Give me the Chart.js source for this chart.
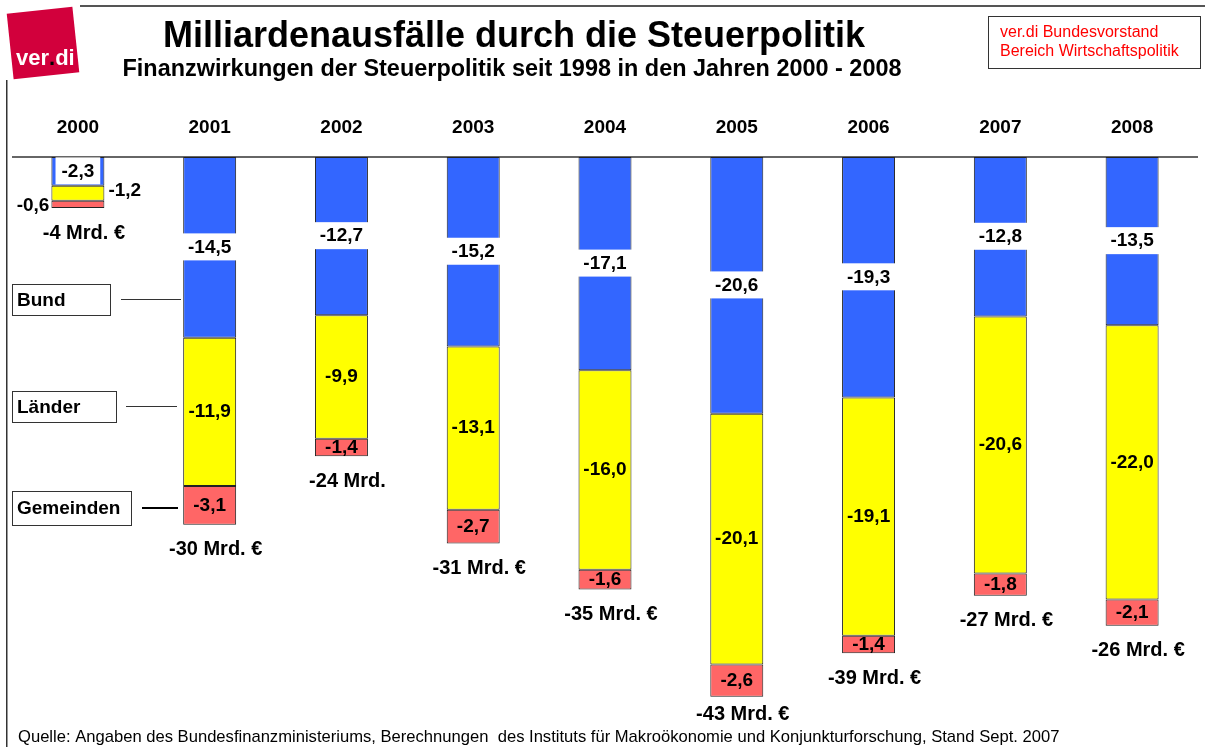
<!DOCTYPE html>
<html>
<head>
<meta charset="utf-8">
<script src="https://cdn.jsdelivr.net/npm/chart.js@4.4.0/dist/chart.umd.min.js"></script>
<style>
  html, body { margin: 0; padding: 0; background: #fff; overflow: hidden; }
  canvas { display: block; }
</style>
</head>
<body>
<canvas id="chart" width="1205" height="747"></canvas>
<script>
// ---------------------
// Data (Mrd. Euro)
// ---------------------
const years = ['2000', '2001', '2002', '2003', '2004', '2005', '2006', '2007', '2008'];
const bund = [-2.3, -14.5, -12.7, -15.2, -17.1, -20.6, -19.3, -12.8, -13.5];
const laender = [-1.2, -11.9, -9.9, -13.1, -16.0, -20.1, -19.1, -20.6, -22.0];
const gemeinden = [-0.6, -3.1, -1.4, -2.7, -1.6, -2.6, -1.4, -1.8, -2.1];
const totals = ['-4 Mrd. €', '-30 Mrd. €', '-24 Mrd.', '-31 Mrd. €', '-35 Mrd. €', '-43 Mrd. €', '-39 Mrd. €', '-27 Mrd. €', '-26 Mrd. €'];
const levels = ['Bund', 'Länder', 'Gemeinden'];

const FONT = 'Arial, "Liberation Sans", sans-serif';
const fmt = v => v.toFixed(1).replace('.', ',');

// ---------------------
// Labels + decoration
// ---------------------
const decor = {
  id: 'decor',
  beforeDatasetsDraw(chart) {
    const { ctx, chartArea: a, scales: { y } } = chart;
    const y0 = y.getPixelForValue(0);
    ctx.save();
    ctx.strokeStyle = '#333';
    ctx.lineWidth = 1.5;
    ctx.beginPath();
    ctx.moveTo(a.left, y0);
    ctx.lineTo(a.right, y0);
    ctx.stroke();
    ctx.restore();
  },
  afterDatasetsDraw(chart) {
    const ctx = chart.ctx;
    const series = [bund, laender, gemeinden];
    const metas = [0, 1, 2].map(i => chart.getDatasetMeta(i));
    ctx.save();
    ctx.textBaseline = 'middle';
    years.forEach((yr, i) => {
      // Bund: label on a white box over the bar
      const b = metas[0].data[i];
      const mid = (b.y + b.base) / 2;
      ctx.font = 'bold 19px ' + FONT;
      const t = fmt(bund[i]);
      const w = ctx.measureText(t).width + 12;
      ctx.fillStyle = '#fff';
      ctx.fillRect(b.x - w / 2, mid - 14, w, 27);
      ctx.fillStyle = '#000';
      ctx.textAlign = 'center';
      ctx.fillText(t, b.x, mid);

      // Länder + Gemeinden
      [1, 2].forEach(d => {
        const el = metas[d].data[i];
        const h = Math.abs(el.base - el.y);
        const m = (el.y + el.base) / 2;
        const s = fmt(series[d][i]);
        if (h >= 16) {
          ctx.textAlign = 'center';
          ctx.fillText(s, el.x, m);
        } else if (d === 1) {
          ctx.textAlign = 'left';
          ctx.fillText(s, el.x + el.width / 2 + 4, m - 2);
        } else {
          ctx.textAlign = 'right';
          ctx.fillText(s, el.x - el.width / 2 - 2, m + 1);
        }
      });

      // total below the bar
      const last = metas[2].data[i];
      ctx.font = 'bold 20px ' + FONT;
      ctx.textAlign = 'center';
      ctx.fillText(totals[i], last.x + 6, Math.min(Math.max(last.y, last.base) + 25, 714));
    });
    ctx.restore();
  },
  afterDraw(chart) {
    const ctx = chart.ctx;
    ctx.save();

    // frame lines
    ctx.fillStyle = '#555';
    ctx.fillRect(80, 5, 1125, 2);
    ctx.fillStyle = '#333';
    ctx.fillRect(6, 80, 1.5, 667);

    // logo
    ctx.save();
    ctx.translate(43, 43);
    ctx.rotate(-6 * Math.PI / 180);
    ctx.fillStyle = '#d2003c';
    ctx.fillRect(-33, -33, 66, 66);
    ctx.restore();
    ctx.font = 'bold 22px ' + FONT;
    ctx.textBaseline = 'alphabetic';
    ctx.textAlign = 'left';
    let lx = 16;
    [['ver', '#fff'], ['.', '#000'], ['di', '#fff']].forEach(([s, c]) => {
      ctx.fillStyle = c;
      ctx.fillText(s, lx, 65);
      lx += ctx.measureText(s).width;
    });

    // title
    ctx.fillStyle = '#000';
    ctx.textAlign = 'center';
    ctx.font = 'bold 36px ' + FONT;
    ctx.fillText('Milliardenausfälle durch die Steuerpolitik', 514, 47);
    ctx.font = 'bold 23.5px ' + FONT;
    ctx.fillText('Finanzwirkungen der Steuerpolitik seit 1998 in den Jahren 2000 - 2008', 512, 76, 779);

    // box top right
    ctx.fillStyle = '#fff';
    ctx.strokeStyle = '#333';
    ctx.lineWidth = 1;
    ctx.fillRect(988.5, 16.5, 212, 52);
    ctx.strokeRect(988.5, 16.5, 212, 52);
    ctx.fillStyle = '#ff0000';
    ctx.textAlign = 'left';
    ctx.textBaseline = 'middle';
    ctx.font = '16px ' + FONT;
    ctx.fillText('ver.di Bundesvorstand', 1000, 33);
    ctx.fillText('Bereich Wirtschaftspolitik', 1000, 52);

    // level boxes on the left
    const boxes = [
      { w: 98, y: 284, h: 31, lx1: 121, lx2: 181, lw: 1 },
      { w: 104, y: 391, h: 31, lx1: 126, lx2: 177, lw: 1 },
      { w: 119, y: 491, h: 34, lx1: 142, lx2: 178, lw: 2 }
    ];
    ctx.font = 'bold 19px ' + FONT;
    boxes.forEach((bx, k) => {
      ctx.fillStyle = '#fff';
      ctx.fillRect(12.5, bx.y + 0.5, bx.w, bx.h);
      ctx.strokeStyle = '#333';
      ctx.lineWidth = 1;
      ctx.strokeRect(12.5, bx.y + 0.5, bx.w, bx.h);
      ctx.fillStyle = '#000';
      ctx.fillText(levels[k], 17, bx.y + bx.h / 2 + 1);
      const ly = bx.y + bx.h / 2;
      ctx.strokeStyle = k === 2 ? '#000' : '#333';
      ctx.lineWidth = bx.lw;
      ctx.beginPath();
      ctx.moveTo(bx.lx1, ly);
      ctx.lineTo(bx.lx2, ly);
      ctx.stroke();
    });

    // source
    ctx.fillStyle = '#000';
    ctx.font = '16.6px ' + FONT;
    ctx.textBaseline = 'middle';
    ctx.fillText('Quelle: Angaben des Bundesfinanzministeriums, Berechnungen  des Instituts für Makroökonomie und Konjunkturforschung, Stand Sept. 2007', 18, 737, 1044);

    ctx.restore();
  }
};

// ---------------------
// Chart
// ---------------------
const barStyle = {
  barPercentage: 0.402,
  categoryPercentage: 1.0,
  borderWidth: 1,
  borderColor: '#222',
  borderSkipped: false
};

new Chart(document.getElementById('chart'), {
  type: 'bar',
  data: {
    labels: years,
    datasets: [
      { label: levels[0], data: bund, backgroundColor: '#3366ff', ...barStyle },
      { label: levels[1], data: laender, backgroundColor: '#ffff00', ...barStyle },
      { label: levels[2], data: gemeinden, backgroundColor: '#ff6666', ...barStyle }
    ]
  },
  options: {
    responsive: false,
    animation: false,
    devicePixelRatio: 1,
    layout: { padding: { left: 12, right: 7, top: 110, bottom: 29 } },
    plugins: { legend: { display: false }, tooltip: { enabled: false } },
    scales: {
      x: {
        stacked: true,
        position: 'top',
        grid: { display: false, drawTicks: false },
        border: { display: false },
        ticks: { font: { family: FONT, size: 19, weight: 'bold' }, color: '#000', padding: 18, maxRotation: 0 },
        afterFit(s) { s.height = 47; }
      },
      y: { stacked: true, display: false, min: -45, max: 0 }
    }
  },
  plugins: [decor]
});
</script>
</body>
</html>
